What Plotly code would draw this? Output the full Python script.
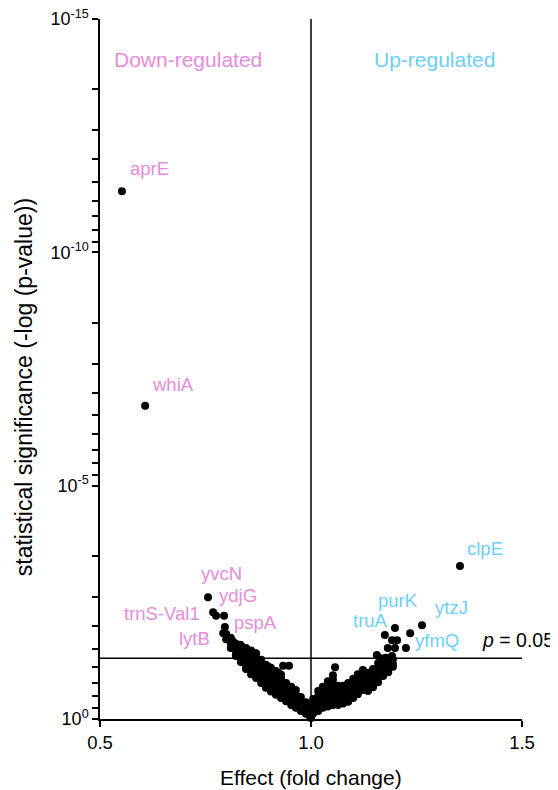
import plotly.graph_objects as go

# ---------------- data ----------------
# labelled genes: fold change and -log10(p-value)
genes = ["aprE", "whiA", "yvcN", "trnS-Val1", "ydjG", "pspA", "lytB",
         "clpE", "ytzJ", "purK", "truA", "yfmQ"]
gene_fc = [0.552, 0.607, 0.756, 0.768, 0.794, 0.796, 0.792,
           1.353, 1.263, 1.199, 1.175, 1.235]
gene_nlp = [11.31, 6.71, 2.61, 2.29, 2.21, 1.97, 1.84,
            3.28, 2.01, 1.95, 1.80, 1.84]

# remaining (unlabelled) genes: fold change and -log10(p-value)
other_fc = [
    0.775,
    0.799, 0.799,
    0.810, 0.810, 0.810,
    0.822, 0.822, 0.822, 0.822,
    0.834, 0.834, 0.834, 0.834, 0.834,
    0.846, 0.846, 0.846, 0.846, 0.846, 0.846,
    0.858, 0.858, 0.858, 0.858, 0.858, 0.858,
    0.870, 0.870, 0.870, 0.870, 0.870, 0.870,
    0.882, 0.882, 0.882, 0.882, 0.882, 0.882,
    0.893, 0.893, 0.893, 0.893, 0.893, 0.893,
    0.905, 0.905, 0.905, 0.905, 0.905, 0.905,
    0.917, 0.917, 0.917, 0.917, 0.917, 0.917,
    0.929, 0.929, 0.929, 0.929, 0.929, 0.929,
    0.941, 0.941, 0.941, 0.941, 0.941,
    0.953, 0.953, 0.953, 0.953, 0.953,
    0.964, 0.964, 0.964, 0.964, 0.964,
    0.976, 0.976, 0.976, 0.976,
    0.988, 0.988, 0.988, 0.988,
    0.998, 0.998, 0.998,
    0.934, 0.948, 0.832, 0.867, 0.815, 0.852, 0.876, 0.899, 0.923,
    1.000,
    1.005, 1.005, 1.005, 1.005,
    1.017, 1.017, 1.017, 1.017, 1.017,
    1.028, 1.028, 1.028, 1.028, 1.028,
    1.040, 1.040, 1.040, 1.040, 1.040, 1.040,
    1.052, 1.052, 1.052, 1.052, 1.052, 1.052, 1.052,
    1.057,
    1.064, 1.064, 1.064, 1.064, 1.064,
    1.076, 1.076, 1.076, 1.076, 1.076,
    1.088, 1.088, 1.088, 1.088, 1.088,
    1.100, 1.100, 1.100, 1.100, 1.100,
    1.111, 1.111, 1.111, 1.111, 1.111,
    1.123, 1.123, 1.123, 1.123, 1.123,
    1.135, 1.135, 1.135, 1.135, 1.135,
    1.147, 1.147, 1.147, 1.147, 1.147,
    1.159, 1.159, 1.159, 1.159, 1.159,
    1.171, 1.171, 1.171, 1.171,
    1.183, 1.183, 1.183, 1.183,
    1.194, 1.194, 1.194,
    1.156, 1.192, 1.182, 1.199, 1.225, 1.192, 1.204, 1.165, 1.177,
]
other_nlp = [
    2.21,
    1.82, 1.71,
    1.74, 1.63, 1.52,
    1.61, 1.50, 1.39, 1.35,
    1.58, 1.50, 1.39, 1.29, 1.22,
    1.52, 1.44, 1.33, 1.22, 1.11, 1.07,
    1.47, 1.39, 1.29, 1.18, 1.07, 0.96,
    1.41, 1.31, 1.20, 1.09, 0.99, 0.88,
    1.27, 1.18, 1.07, 0.96, 0.86, 0.77,
    1.16, 1.07, 0.96, 0.86, 0.75, 0.67,
    1.10, 1.01, 0.90, 0.79, 0.69, 0.59,
    1.03, 0.94, 0.84, 0.73, 0.62, 0.52,
    0.95, 0.86, 0.75, 0.64, 0.54, 0.45,
    0.77, 0.66, 0.56, 0.45, 0.38,
    0.69, 0.58, 0.47, 0.36, 0.30,
    0.62, 0.52, 0.42, 0.32, 0.24,
    0.47, 0.36, 0.26, 0.17,
    0.36, 0.26, 0.17, 0.11,
    0.21, 0.11, 0.04,
    1.14, 1.14, 1.59, 1.41, 1.66, 1.37, 1.25, 1.12, 0.99,
    0.02,
    0.43, 0.32, 0.21, 0.12,
    0.60, 0.49, 0.39, 0.28, 0.17,
    0.69, 0.58, 0.47, 0.36, 0.24,
    0.81, 0.71, 0.60, 0.49, 0.39, 0.27,
    0.94, 0.84, 0.73, 0.62, 0.51, 0.41, 0.30,
    1.11,
    0.71, 0.60, 0.49, 0.39, 0.30,
    0.71, 0.60, 0.49, 0.39, 0.33,
    0.77, 0.66, 0.56, 0.45, 0.37,
    0.86, 0.75, 0.64, 0.54, 0.45,
    0.96, 0.86, 0.75, 0.64, 0.53,
    1.05, 0.94, 0.84, 0.73, 0.62,
    0.99, 0.88, 0.77, 0.69, 0.60,
    1.07, 0.96, 0.86, 0.77, 0.68,
    1.20, 1.09, 0.99, 0.88, 0.79,
    1.24, 1.14, 1.03, 0.92,
    1.26, 1.16, 1.07, 1.00,
    1.28, 1.18, 1.12,
    1.37, 1.35, 1.52, 1.52, 1.52, 1.69, 1.69, 1.30, 1.31,
]

p_threshold = 0.05
x_ticks = [0.5, 1.0, 1.5]
x_ticklabels = ["0.5", "1.0", "1.5"]
y_major_exps = [-15, -10, -5, 0]
y_major_labels = ["10<sup>-15</sup>", "10<sup>-10</sup>", "10<sup>-5</sup>", "10<sup>0</sup>"]
x_title = "Effect (fold change)"
y_title = "statistical significance (-log (p-value))"

# ---------------- styling ----------------
PINK = "#E78BDB"
BLUE = "#6DCFF6"
FONT = "Liberation Sans, Arial, Helvetica, sans-serif"

# label placement: (xanchor, xshift px, yshift px)
label_pos = {
    "aprE": ("left", 6, 23),
    "whiA": ("left", 5, 21),
    "yvcN": ("center", 13, 24),
    "trnS-Val1": ("right", -11, -1),
    "ydjG": ("left", -7, 20),
    "pspA": ("left", 7, 5),
    "lytB": ("right", -11, -5),
    "clpE": ("left", 5, 17),
    "ytzJ": ("left", 11, 18),
    "purK": ("center", 3, 28),
    "truA": ("center", -14, 15),
    "yfmQ": ("left", 3, -7),
}

fig = go.Figure()

all_fc = gene_fc + other_fc
all_p = [10 ** (-v) for v in gene_nlp + other_nlp]

fig.add_trace(go.Scatter(
    x=all_fc, y=all_p, mode="markers",
    marker=dict(color="black", size=8, line=dict(width=0)),
    hoverinfo="skip", showlegend=False, cliponaxis=False,
))

# reference lines
fig.add_trace(go.Scatter(x=[1.0, 1.0], y=[1.0, 1e-15], mode="lines",
                         line=dict(color="black", width=1.5),
                         hoverinfo="skip", showlegend=False, cliponaxis=False))
fig.add_trace(go.Scatter(x=[0.5, 1.5], y=[p_threshold, p_threshold], mode="lines",
                         line=dict(color="black", width=1.5),
                         hoverinfo="skip", showlegend=False, cliponaxis=False))

annotations = []
for g, fc, nlp in zip(genes, gene_fc, gene_nlp):
    xa, xs, ys = label_pos[g]
    annotations.append(dict(
        x=fc, y=-nlp, xref="x", yref="y", text=g, showarrow=False,
        xanchor=xa, yanchor="middle", xshift=xs, yshift=ys,
        font=dict(family=FONT, size=18.5, color=PINK if fc < 1 else BLUE),
    ))

annotations += [
    dict(x=0.7085, y=-14.14, xref="x", yref="y", text="Down-regulated",
         showarrow=False, xanchor="center", yanchor="middle",
         font=dict(family=FONT, size=21, color=PINK)),
    dict(x=1.2915, y=-14.14, xref="x", yref="y", text="Up-regulated",
         showarrow=False, xanchor="center", yanchor="middle",
         font=dict(family=FONT, size=21, color=BLUE)),
    dict(x=1.40, y=-1.69, xref="x", yref="y", text="<i>p</i> = 0.05",
         showarrow=False, xanchor="left", yanchor="middle",
         font=dict(family=FONT, size=19.5, color="black")),
    dict(x=0.5, y=-0.083, xref="paper", yref="paper", text=x_title,
         showarrow=False, xanchor="center", yanchor="middle",
         font=dict(family=FONT, size=21, color="black")),
    dict(x=-0.180, y=0.474, xref="paper", yref="paper", text=y_title,
         textangle=-90, showarrow=False, xanchor="center", yanchor="middle",
         font=dict(family=FONT, size=23, color="black")),
]

# y ticks: labelled majors plus intermediate minor ticks
y_tickvals = [10.0 ** e for e in y_major_exps]
y_minorvals = [10.0 ** e * k ** 5 for e in y_major_exps[:-1] for k in range(2, 10)]

fig.update_layout(
    width=550, height=782,
    margin=dict(l=92, r=36, t=11, b=71, autoexpand=False),
    paper_bgcolor="white", plot_bgcolor="white",
    font=dict(family=FONT, color="black"),
    annotations=annotations,
    showlegend=False,
    xaxis=dict(
        range=[0.5, 1.5], showgrid=False, zeroline=False, automargin=False,
        showline=True, linecolor="black", linewidth=1.5,
        ticks="outside", ticklen=6, tickwidth=1.5, tickcolor="black",
        tickvals=x_ticks, ticktext=x_ticklabels, ticklabeloverflow="allow",
        tickfont=dict(family=FONT, size=18.5, color="black"),
    ),
    yaxis=dict(
        type="log", range=[0, -15], showgrid=False, zeroline=False, automargin=False,
        showline=True, linecolor="black", linewidth=1.5,
        ticks="outside", ticklen=6, tickwidth=1.5, tickcolor="black",
        tickvals=y_tickvals, ticktext=y_major_labels, ticklabeloverflow="allow",
        minor=dict(tickmode="array", tickvals=y_minorvals, ticks="outside",
                   ticklen=6, tickwidth=1.5, tickcolor="black", showgrid=False),
        tickfont=dict(family=FONT, size=18, color="black"),
    ),
)

fig.write_html("out.html")
